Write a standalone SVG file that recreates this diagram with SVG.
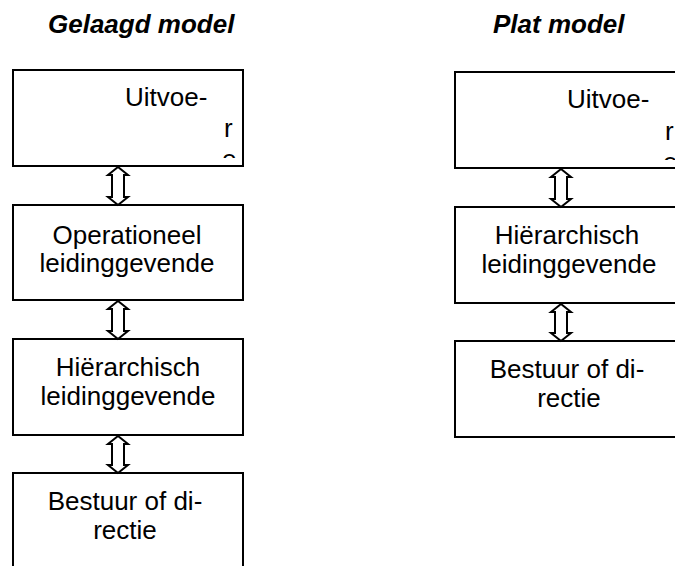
<svg xmlns="http://www.w3.org/2000/svg" width="675" height="566" viewBox="0 0 675 566">
<style>
.box{fill:#fff;stroke:#000;stroke-width:2}
.arr{fill:#fff;stroke:#000;stroke-width:2;stroke-linejoin:miter}
.t{font-family:"Liberation Sans",Arial,sans-serif;font-size:26px;fill:#000}
.h{font-family:"Liberation Sans",Arial,sans-serif;font-size:26px;font-weight:bold;font-style:italic;fill:#000}
</style>
<defs>
<clipPath id="c1"><rect x="14" y="71" width="228" height="87"/></clipPath>
<clipPath id="c2"><rect x="456" y="73" width="219" height="87"/></clipPath>
</defs>
<rect width="675" height="566" fill="#fff"/>
<text class="h" x="48" y="33">Gelaagd model</text>
<text class="h" x="493" y="33">Plat model</text>

<g id="L1"><rect class="box" x="13" y="70" width="230" height="96"/>
<g clip-path="url(#c1)"><text class="t" x="125" y="106">Uitvoe-</text><text class="t" x="224" y="137">r</text><text class="t" x="222" y="168">e</text></g></g>
<g id="L2"><rect class="box" x="13" y="205" width="230" height="95"/>
<text class="t" text-anchor="middle"><tspan x="127" y="244">Operationeel</tspan><tspan x="127" y="272">leidinggevende</tspan></text></g>
<g id="L3"><rect class="box" x="13" y="339" width="230" height="96"/>
<text class="t" text-anchor="middle"><tspan x="128" y="376">Hiërarchisch</tspan><tspan x="128" y="405">leidinggevende</tspan></text></g>
<g id="L4"><path class="box" d="M13,570 V473 H243 V570"/>
<text class="t" text-anchor="middle"><tspan x="125" y="510">Bestuur of di-</tspan><tspan x="125" y="539">rectie</tspan></text></g>

<g id="R1"><rect class="box" x="455" y="72" width="240" height="96"/>
<g clip-path="url(#c2)"><text class="t" x="567" y="108">Uitvoe-</text><text class="t" x="665" y="140">r</text><text class="t" x="663" y="171">e</text></g></g>
<g id="R2"><rect class="box" x="455" y="207" width="240" height="96"/>
<text class="t" text-anchor="middle"><tspan x="567" y="244">Hiërarchisch</tspan><tspan x="569" y="273">leidinggevende</tspan></text></g>
<g id="R3"><rect class="box" x="455" y="341" width="240" height="96"/>
<text class="t" text-anchor="middle"><tspan x="567" y="378">Bestuur of di-</tspan><tspan x="569" y="407">rectie</tspan></text></g>

<g id="connectors">
<path class="arr" d="M118,167 L128,175 L124,175 L124,197 L128,197 L118,205 L108,197 L112,197 L112,175 L108,175 Z"/>
<path class="arr" d="M118,301 L128,309 L124,309 L124,331 L128,331 L118,339 L108,331 L112,331 L112,309 L108,309 Z"/>
<path class="arr" d="M118,436 L128,444 L124,444 L124,465 L128,465 L118,473 L108,465 L112,465 L112,444 L108,444 Z"/>
<path class="arr" d="M561,169 L571,177 L567,177 L567,199 L571,199 L561,207 L551,199 L555,199 L555,177 L551,177 Z"/>
<path class="arr" d="M561,304 L571,312 L567,312 L567,333 L571,333 L561,341 L551,333 L555,333 L555,312 L551,312 Z"/>
</g>
</svg>
